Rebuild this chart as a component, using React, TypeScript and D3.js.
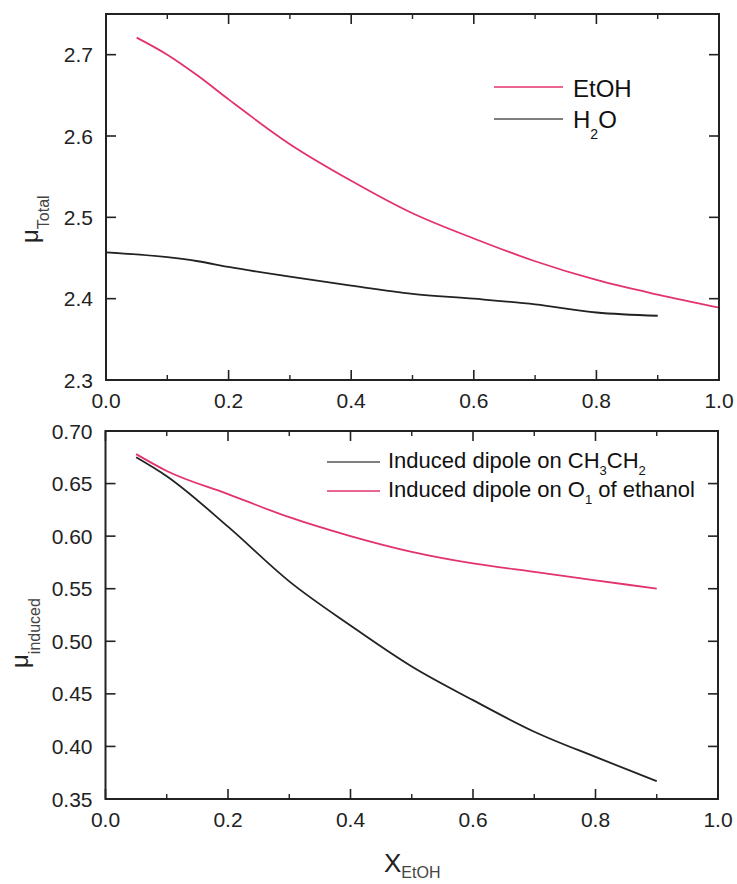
import React from "react";
import * as d3 from "d3";

// ---------- data ----------
const xEtOH = [0.05, 0.1, 0.15, 0.2, 0.3, 0.4, 0.5, 0.6, 0.7, 0.8, 0.9, 1.0];
const etohTotal = [2.721, 2.7, 2.674, 2.645, 2.59, 2.545, 2.505, 2.474, 2.446, 2.423, 2.405, 2.389];
const xWater = [0.0, 0.1, 0.15, 0.2, 0.3, 0.4, 0.5, 0.6, 0.7, 0.8, 0.9];
const waterTotal = [2.457, 2.451, 2.446, 2.439, 2.427, 2.416, 2.406, 2.4, 2.393, 2.383, 2.379];

const xInduced = [0.05, 0.1, 0.2, 0.3, 0.4, 0.5, 0.6, 0.7, 0.8, 0.9];
const ch3ch2Induced = [0.675, 0.657, 0.609, 0.557, 0.515, 0.476, 0.444, 0.414, 0.39, 0.367];
const o1Induced = [0.678, 0.662, 0.64, 0.618, 0.6, 0.585, 0.574, 0.566, 0.558, 0.55];

const xMajorTicks = [0, 0.2, 0.4, 0.6, 0.8, 1.0];
const xMinorTicks = [0.1, 0.3, 0.5, 0.7, 0.9];
const topYTicks = [2.3, 2.4, 2.5, 2.6, 2.7];
const bottomYTicks = [0.35, 0.4, 0.45, 0.5, 0.55, 0.6, 0.65, 0.7];

const PINK = "#e2336c";
const BLACK = "#222";
const FONT = "'Liberation Sans', Arial, Helvetica, sans-serif";

type Series = { xs: number[]; ys: number[]; color: string };

function Panel(props: {
  left: number; right: number; top: number; bottom: number;
  yDomain: [number, number]; yTicks: number[]; yFmt: (v: number) => string;
  series: Series[];
}) {
  const { left, right, top, bottom, yDomain, yTicks, yFmt, series } = props;
  const x = d3.scaleLinear().domain([0, 1]).range([left, right]);
  const y = d3.scaleLinear().domain(yDomain).range([bottom, top]);
  const maj = 10, min = 5;
  const xf = d3.format(".1f");
  return (
    <g>
      {series.map((s, i) => {
        const pts = s.xs.map((xv, j) => [xv, s.ys[j]] as [number, number]);
        const line = d3.line<[number, number]>()
          .x((d) => x(d[0]))
          .y((d) => y(d[1]))
          .curve(d3.curveMonotoneX);
        return <path key={i} d={line(pts) || ""} fill="none" stroke={s.color} strokeWidth={1.8} />;
      })}
      <rect x={left} y={top} width={right - left} height={bottom - top} fill="none" stroke={BLACK} strokeWidth={2} />
      {xMajorTicks.map((t) => (
        <g key={"xm" + t}>
          <line x1={x(t)} x2={x(t)} y1={bottom} y2={bottom - maj} stroke={BLACK} strokeWidth={1.6} />
          <line x1={x(t)} x2={x(t)} y1={top} y2={top + maj} stroke={BLACK} strokeWidth={1.6} />
          <text x={x(t)} y={bottom + 28} textAnchor="middle" fontSize={21} fontFamily={FONT} fill="#222">{xf(t)}</text>
        </g>
      ))}
      {xMinorTicks.map((t) => (
        <g key={"xn" + t}>
          <line x1={x(t)} x2={x(t)} y1={bottom} y2={bottom - min} stroke={BLACK} strokeWidth={1.4} />
          <line x1={x(t)} x2={x(t)} y1={top} y2={top + min} stroke={BLACK} strokeWidth={1.4} />
        </g>
      ))}
      {yTicks.map((t) => (
        <g key={"y" + t}>
          <line x1={left} x2={left + maj} y1={y(t)} y2={y(t)} stroke={BLACK} strokeWidth={1.6} />
          <line x1={right} x2={right - maj} y1={y(t)} y2={y(t)} stroke={BLACK} strokeWidth={1.6} />
          <text x={left - 13} y={y(t)} dy="0.36em" textAnchor="end" fontSize={21} fontFamily={FONT} fill="#222">{yFmt(t)}</text>
        </g>
      ))}
    </g>
  );
}

export default function App() {
  return (
    <svg width={737} height={884} style={{ position: "absolute", left: 0, top: 0, background: "#fff" }}>
      <rect x={0} y={0} width={737} height={884} fill="#fff" />
      <Panel
        left={106} right={719} top={14} bottom={380}
        yDomain={[2.3, 2.75]} yTicks={topYTicks} yFmt={d3.format(".1f")}
        series={[
          { xs: xEtOH, ys: etohTotal, color: PINK },
          { xs: xWater, ys: waterTotal, color: BLACK },
        ]}
      />
      <Panel
        left={105.5} right={718} top={431} bottom={799}
        yDomain={[0.35, 0.7]} yTicks={bottomYTicks} yFmt={d3.format(".2f")}
        series={[
          { xs: xInduced, ys: ch3ch2Induced, color: BLACK },
          { xs: xInduced, ys: o1Induced, color: PINK },
        ]}
      />
      {/* top legend */}
      <line x1={494} x2={563} y1={87} y2={87} stroke={PINK} strokeWidth={1.4} />
      <text x={573} y={97} fontSize={24} fontFamily={FONT} fill="#111">EtOH</text>
      <line x1={494} x2={563} y1={119} y2={119} stroke="#555" strokeWidth={1.4} />
      <text x={573} y={128} fontSize={24} fontFamily={FONT} fill="#111">
        H<tspan fontSize={14} dy={11}>2</tspan><tspan dy={-11}>O</tspan>
      </text>
      {/* bottom legend */}
      <line x1={327} x2={380} y1={462} y2={462} stroke="#555" strokeWidth={1.4} />
      <text x={388} y={468} fontSize={22} fontFamily={FONT} fill="#111">
        Induced dipole on CH<tspan fontSize={13} dy={7}>3</tspan><tspan dy={-7}>CH</tspan><tspan fontSize={13} dy={7}>2</tspan>
      </text>
      <line x1={327} x2={380} y1={491} y2={491} stroke={PINK} strokeWidth={1.4} />
      <text x={388} y={497} fontSize={22} fontFamily={FONT} fill="#111">
        Induced dipole on O<tspan fontSize={13} dy={7}>1</tspan><tspan dy={-7}> of ethanol</tspan>
      </text>
      {/* y titles */}
      <text transform="translate(38,243) rotate(-90)" fontSize={24} fontFamily={FONT} fill="#222">
        μ<tspan fontSize={16} dy={11} fill="#444">Total</tspan>
      </text>
      <text transform="translate(28,668) rotate(-90)" fontSize={24} fontFamily={FONT} fill="#222">
        μ<tspan fontSize={16} dy={12} fill="#444">induced</tspan>
      </text>
      {/* x title */}
      <text x={384} y={872} fontSize={26} fontFamily={FONT} fill="#222">
        X<tspan fontSize={16} dy={6} fill="#444">EtOH</tspan>
      </text>
    </svg>
  );
}
